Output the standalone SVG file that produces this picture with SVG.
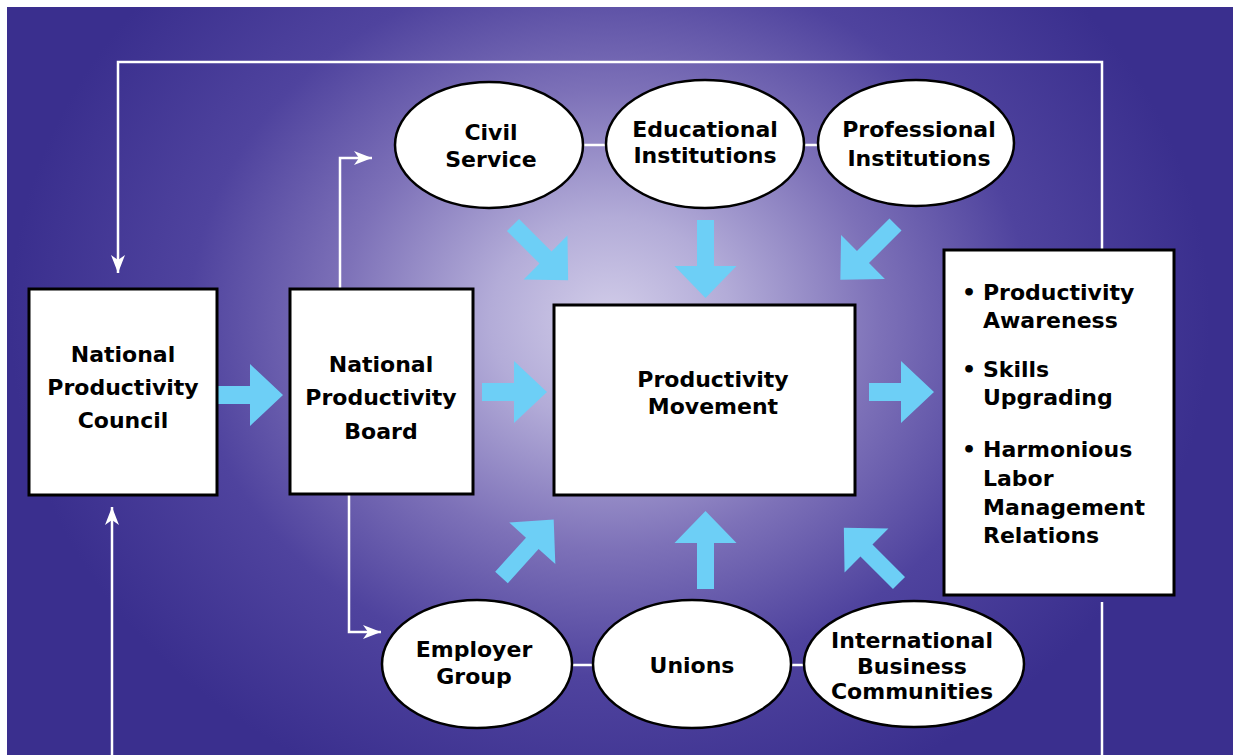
<svg xmlns="http://www.w3.org/2000/svg" xmlns:xlink="http://www.w3.org/1999/xlink" width="1233" height="755" viewBox="0 0 1233 755">
<style>
.box{fill:#ffffff;stroke:#000000;stroke-width:3}
.ell{fill:#ffffff;stroke:#000000;stroke-width:2.5}
.lbl{font-family:"DejaVu Sans","Liberation Sans",sans-serif;font-weight:bold;font-size:22px;fill:#000000}
.mid{text-anchor:middle}
.wline{fill:none;stroke:#ffffff;stroke-width:2.5}
.blue{fill:#6dcff6}
</style>
<defs>
<radialGradient id="bg" gradientUnits="userSpaceOnUse" cx="610" cy="320" r="600" gradientTransform="translate(610 320) scale(1 0.85) translate(-610 -320)">
<stop offset="0" stop-color="#d2cde9"/>
<stop offset="0.2" stop-color="#b3acd8"/>
<stop offset="0.45" stop-color="#7d71b8"/>
<stop offset="0.7" stop-color="#4f439e"/>
<stop offset="1" stop-color="#3a2f8e"/>
</radialGradient>
<marker id="wa" viewBox="0 0 18 14" refX="18" refY="7" markerWidth="18" markerHeight="14" orient="auto" markerUnits="userSpaceOnUse">
<path d="M0,0 L18,7 L0,14 L5,7 Z" fill="#ffffff"/>
</marker>
<path id="arrL" d="M0,-8.5 H46 V-31 L78,0 L46,31 V8.5 H0 Z"/>
<path id="arrS" d="M0,-9 H32 V-31 L65,0 L32,31 V9 H0 Z"/>
</defs>
<rect x="0" y="0" width="1233" height="755" fill="#ffffff"/>
<rect x="7" y="7" width="1226" height="748" fill="url(#bg)"/>

<g id="connectors">
<path class="wline" d="M1102,250 V62 H118 V273" marker-end="url(#wa)"/>
<path class="wline" d="M1102,602 V760"/>
<path class="wline" d="M112,760 V507" marker-end="url(#wa)"/>
<path class="wline" d="M340,289 V158 H372" marker-end="url(#wa)"/>
<path class="wline" d="M349,494 V632 H381" marker-end="url(#wa)"/>
<path class="wline" d="M489,145 H916"/>
<path class="wline" d="M477,665 H914"/>
<g class="blue">
<use xlink:href="#arrS" href="#arrS" transform="translate(218 395)"/>
<use xlink:href="#arrS" href="#arrS" transform="translate(482 392)"/>
<use xlink:href="#arrS" href="#arrS" transform="translate(869 392)"/>
<use xlink:href="#arrL" href="#arrL" transform="translate(513 225) rotate(45)"/>
<use xlink:href="#arrL" href="#arrL" transform="translate(705.5 220) rotate(90)"/>
<use xlink:href="#arrL" href="#arrL" transform="translate(895.5 224.5) rotate(135)"/>
<use xlink:href="#arrL" href="#arrL" transform="translate(501.5 577.5) rotate(-48)"/>
<use xlink:href="#arrL" href="#arrL" transform="translate(705.5 589) rotate(-90)"/>
<use xlink:href="#arrL" href="#arrL" transform="translate(899 583) rotate(-135)"/>
</g>
</g>

<g id="npc">
<rect class="box" x="29" y="289" width="188" height="206"/>
<text class="lbl mid" x="123" y="362">National</text>
<text class="lbl mid" x="123" y="395">Productivity</text>
<text class="lbl mid" x="123" y="428">Council</text>
</g>

<g id="npb">
<rect class="box" x="290" y="289" width="183" height="205"/>
<text class="lbl mid" x="381" y="372">National</text>
<text class="lbl mid" x="381" y="405">Productivity</text>
<text class="lbl mid" x="381" y="439">Board</text>
</g>

<g id="movement">
<rect class="box" x="554" y="305" width="301" height="190"/>
<text class="lbl mid" x="713" y="387">Productivity</text>
<text class="lbl mid" x="713" y="414">Movement</text>
</g>

<g id="outcomes">
<rect class="box" x="944" y="250" width="230" height="345"/>
<g class="lbl">
<text x="962" y="300">•</text>
<text x="983" y="300">Productivity</text>
<text x="983" y="328">Awareness</text>
<text x="962" y="377">•</text>
<text x="983" y="377">Skills</text>
<text x="983" y="405">Upgrading</text>
<text x="962" y="457">•</text>
<text x="983" y="457">Harmonious</text>
<text x="983" y="486">Labor</text>
<text x="983" y="515">Management</text>
<text x="983" y="543">Relations</text>
</g>
</g>

<g id="civil">
<ellipse class="ell" cx="489" cy="145" rx="94" ry="63"/>
<text class="lbl mid" x="491" y="140">Civil</text>
<text class="lbl mid" x="491" y="167">Service</text>
</g>

<g id="educational">
<ellipse class="ell" cx="705" cy="144" rx="99" ry="64"/>
<text class="lbl mid" x="705" y="137">Educational</text>
<text class="lbl mid" x="705" y="163">Institutions</text>
</g>

<g id="professional">
<ellipse class="ell" cx="916" cy="143" rx="98" ry="63"/>
<text class="lbl mid" x="919" y="137">Professional</text>
<text class="lbl mid" x="919" y="166">Institutions</text>
</g>

<g id="employer">
<ellipse class="ell" cx="477" cy="664" rx="95" ry="64"/>
<text class="lbl mid" x="474" y="657">Employer</text>
<text class="lbl mid" x="474" y="684">Group</text>
</g>

<g id="unions">
<ellipse class="ell" cx="692" cy="664" rx="99" ry="64"/>
<text class="lbl mid" x="692" y="673">Unions</text>
</g>

<g id="international">
<ellipse class="ell" cx="914" cy="664" rx="110" ry="63"/>
<text class="lbl mid" x="912" y="648">International</text>
<text class="lbl mid" x="912" y="674">Business</text>
<text class="lbl mid" x="912" y="699">Communities</text>
</g>
</svg>
